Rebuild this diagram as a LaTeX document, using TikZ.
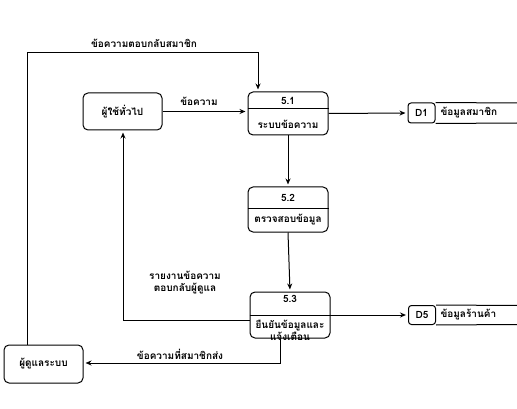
\documentclass[tikz,border=0pt]{standalone}
\usepackage{fontspec}
\newfontfamily\thaifont[Script=Thai]{Loma}
\usetikzlibrary{arrows.meta}
\begin{document}
\begin{tikzpicture}[x=1pt,y=-1pt,
  font=\thaifont\bfseries\fontsize{10}{12}\selectfont,
  every path/.style={line width=1pt},
  boxstyle/.style={draw,rounded corners=5pt,inner sep=0pt,line width=1pt},
  storebox/.style={draw,rounded corners=3pt,inner sep=0pt,minimum width=27pt,minimum height=20pt,line width=1pt},
  arr/.style={-{Stealth[length=6pt,width=5pt,open]},shorten >=2pt},
  lbl/.style={inner sep=1pt}]
\useasboundingbox (0,0) rectangle (517,409);
% boxes
\node[boxstyle,minimum width=79pt,minimum height=37pt] (user) at (122.5,111.5) {ผู้ใช้ทั่วไป};
\node[boxstyle,minimum width=79pt,minimum height=38pt] (admin) at (43.5,364) {ผู้ดูแลระบบ};
\node[boxstyle,minimum width=80pt,minimum height=43pt] (p51) at (288,113.5) {};
\node[boxstyle,minimum width=80pt,minimum height=45pt] (p52) at (288,209.5) {};
\node[boxstyle,minimum width=80pt,minimum height=46pt] (p53) at (290,315) {};
\draw (p51.west |- 0,109) -- (p51.east |- 0,109);
\draw (p52.west |- 0,208) -- (p52.east |- 0,208);
\draw (p53.west |- 0,315) -- (p53.east |- 0,315);
\node[lbl] (t51a) at (288,101) {5.1};
\node[lbl] (t51b) at (288,124) {ระบบข้อความ};
\node[lbl] (t52a) at (288,198) {5.2};
\node[lbl] (t52b) at (288,220) {ตรวจสอบข้อมูล};
\node[lbl] (t53a) at (290,299) {5.3};
\node[lbl,align=center] (t53b) at (290,330) {ยืนยันข้อมูลและ\\แจ้งเตือน};
% data stores
\node[storebox] (d1) at (421.5,113) {D1};
\node[storebox,minimum height=19pt] (d5) at (422,315) {D5};
\draw (d1.north east) -- (517,103);
\draw (d1.south east) -- (517,123);
\draw (d5.north east) -- (517,305.5);
\draw (d5.south east) -- (517,324.5);
\node[lbl,anchor=west] (d1t) at (439,113) {ข้อมูลสมาชิก};
\node[lbl,anchor=west] (d5t) at (439,315) {ข้อมูลร้านค้า};
% connectors
\coordinate (tl) at (27,53);
\coordinate (tr) at (258,53);
\draw[arr] (admin.north -| tl) -- (tl) -- (tr) -- (p51.north -| tr);
\node[lbl] (l1) at (144,43) {ข้อความตอบกลับสมาชิก};
\draw[arr] (user.east) -- (p51.west |- user.east);
\node[lbl] (l2) at (199,101) {ข้อความ};
\draw[arr] (p51.east) -- (d1.west);
\draw[arr] (p51.south) -- (p52.north);
\draw[arr] (p52.south) -- (p53.north);
\coordinate (bl) at (123,320);
\draw[arr] (p53.west |- bl) -- (bl) -- (user.south -| bl);
\node[lbl,align=center] (l3) at (185,283) {รายงานข้อความ\\ตอบกลับผู้ดูแล};
\draw[arr] (p53.east) -- (d5.west);
\coordinate (br) at (280,363);
\draw[arr] (p53.south -| br) -- (br) -- (admin.east |- br);
\node[lbl] (l4) at (180,354) {ข้อความที่สมาชิกส่ง};
\end{tikzpicture}
\end{document}
